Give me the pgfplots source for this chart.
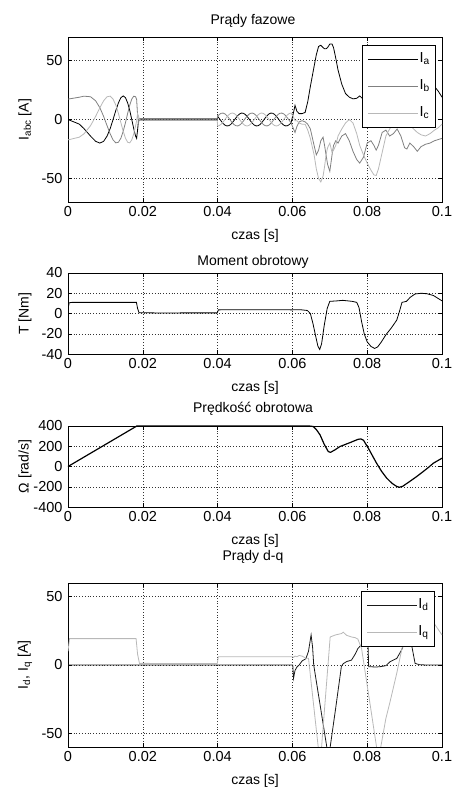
\documentclass[border=0pt]{standalone}
\usepackage{pgfplots}
\pgfplotsset{compat=1.18}
\usepackage{pgfplotstable}
\usepackage{fontspec}
\setmainfont{Liberation Sans}
\definecolor{cB}{gray}{0.5}
\definecolor{cC}{gray}{0.72}
\definecolor{cD}{gray}{0.1}

\pgfplotstableread{
t ia ib ic
0.00000 0 17.3 -17.3
0.00301 -3.9 18.9 -15.0
0.00426 -7.7 19.8 -12.2
0.00603 -14.1 19.3 -5.2
0.00738 -18.5 15.9 2.6
0.00852 -20 10 10
0.00953 -18.5 2.6 15.9
0.01044 -14.1 -5.2 19.3
0.01128 -7.7 -12.2 19.8
0.01205 0 -17.3 17.3
0.01279 7.7 -19.8 12.2
0.01348 14.1 -19.3 5.2
0.01413 18.5 -15.9 -2.6
0.01476 20 -10 -10
0.01537 18.5 -2.6 -15.9
0.01595 14.1 5.2 -19.3
0.01651 7.7 12.2 -19.8
0.01705 0 17.3 -17.3
0.01757 -7.7 19.8 -12.2
0.01808 -14.1 19.3 -5.2
0.01835 -16 17 -1
0.01860 -9 4 5
0.01885 -1 -3 3
0.01910 -0.3 0.8 -0.5
0.03990 -0.3 0.8 -0.5
0.04000 2.75 2.75 -5.5
0.04049 0.72 4.36 -5.08
0.04098 -1.42 5.31 -3.89
0.04147 -3.35 5.45 -2.1
0.04196 -4.76 4.76 0
0.04245 -5.45 3.35 2.1
0.04295 -5.31 1.42 3.89
0.04344 -4.36 -0.72 5.08
0.04393 -2.75 -2.75 5.5
0.04442 -0.72 -4.36 5.08
0.04491 1.42 -5.31 3.89
0.04540 3.35 -5.45 2.1
0.04589 4.76 -4.76 0
0.04638 5.45 -3.35 -2.1
0.04687 5.31 -1.42 -3.89
0.04736 4.36 0.72 -5.08
0.04786 2.75 2.75 -5.5
0.04835 0.72 4.36 -5.08
0.04884 -1.42 5.31 -3.89
0.04933 -3.35 5.45 -2.1
0.04982 -4.76 4.76 0
0.05031 -5.45 3.35 2.1
0.05080 -5.31 1.42 3.89
0.05129 -4.36 -0.72 5.08
0.05178 -2.75 -2.75 5.5
0.05227 -0.72 -4.36 5.08
0.05277 1.42 -5.31 3.89
0.05326 3.35 -5.45 2.1
0.05375 4.76 -4.76 0
0.05424 5.45 -3.35 -2.1
0.05473 5.31 -1.42 -3.89
0.05522 4.36 0.72 -5.08
0.05571 2.75 2.75 -5.5
0.05620 0.72 4.36 -5.08
0.05669 -1.42 5.31 -3.89
0.05718 -3.35 5.45 -2.1
0.05768 -4.76 4.76 0
0.05817 -5.45 3.35 2.1
0.05866 -5.31 1.42 3.89
0.05915 -4.36 -0.72 5.08
0.05964 -2.75 -2.75 5.5
0.0603 6 -8 2
0.0607 12 -11 -1
0.0612 7 -6 -1
0.0618 5 -2 -3
0.0626 5 -1 -4
0.0634 6 -2 -4
0.0641 15 -4 -9
0.0648 28 -8 -16
0.0658 45 -22 -30
0.0664 55 -30 -42
0.0670 62 -26 -50
0.0676 63 -18 -53
0.0682 61 -15 -48
0.0686 60 -22 -40
0.0690 60 -30 -30
0.0694 61 -38 -24
0.0700 64 -44 -20
0.0706 64 -30 -28
0.0710 61 -22 -26
0.0716 52 -18 -22
0.0722 42 -20 -14
0.0732 30 -14 -8
0.0742 22 -12 -3
0.0752 19 -18 0
0.0762 17.5 -27 -3
0.0772 18 -34 -12
0.0780 20 -37 -22
0.0790 17 -32 -30
0.0800 14 -20 -37
0.0810 11 -18 -43
0.0818 9 -22 -47
0.0824 8 -26 -47.5
0.0830 7 -22 -42
0.0840 5 -11 -28
0.0850 5 -9 -14
0.0860 6 -14 -8
0.0870 8 -12 -4
0.0880 12 -8 -3
0.0890 18 -14 -5
0.0900 25 -24 -4
0.0906 29 -25 -4
0.0914 34 -20 -5
0.0924 38 -23 -8
0.0934 41 -27 -11
0.0944 40 -23 -13
0.0956 36 -21 -14
0.0968 32 -20 -12
0.0980 28 -18 -9
0.0990 24 -17 -7
0.1000 19 -16 -4
}\phase

\pgfplotstableread{
t T
0 4
0.0003 10.5
0.0010 11
0.0183 11
0.0186 5
0.0190 0.8
0.0250 0.5
0.0300 0.6
0.0399 0.6
0.0402 3.6
0.0500 3.8
0.0600 3.6
0.0620 3.8
0.0640 3
0.0648 0
0.0655 -10
0.0662 -22
0.0668 -32
0.0673 -35.5
0.0678 -30
0.0685 -12
0.0693 5
0.0700 12
0.0720 12.5
0.0735 13
0.0760 12
0.0772 11
0.0778 6
0.0785 -8
0.0792 -20
0.0800 -28
0.0810 -32.5
0.0820 -34.5
0.0828 -33
0.0838 -28
0.0850 -21
0.0865 -14
0.0879 -6.5
0.0887 3
0.0893 11
0.0905 12
0.0915 16
0.0928 19.3
0.0945 20
0.0960 19.5
0.0977 17.8
0.1000 12.5
}\torque

\pgfplotstableread{
t w
0 0
0.0184 400
0.0645 400
0.0656 395
0.0665 360
0.0674 312
0.0685 220
0.0696 147
0.0702 140
0.0714 165
0.0727 197
0.0754 236
0.0776 269
0.0783 272
0.0790 260
0.0803 181
0.0815 100
0.0825 33
0.0838 -45
0.0852 -114
0.0866 -165
0.0878 -195
0.0886 -205
0.0895 -195
0.0914 -147
0.0932 -100
0.0950 -49
0.0965 -5
0.0977 33
0.1000 82
}\speed

\pgfplotstableread{
t id iq
0 0 10
0.0004 0 19.3
0.0182 0 19.3
0.0186 0 8
0.0191 0 1.2
0.0399 0 1
0.0402 0 6
0.0601 0 6
0.0603 -9.7 5.6
0.0607 -4 6.5
0.0612 -1.5 6
0.0618 0 7
0.0626 3 6.5
0.0636 4.6 5
0.0643 10 5
0.0650 22 -12.5
0.0654 13 -22.5
0.0657 0 -30
0.0669 -20.6 -60
0.0674 -29.1 -72
0.0678 -36 -60
0.0692 -60 -11
0.0696 -66 3
0.0701 -60 20.5
0.0715 -33 22
0.0731 -1 23
0.0736 1 24
0.0745 2.5 21.7
0.0758 3.6 20.5
0.0768 8 20
0.0775 12 19
0.0785 15 12
0.0802 16 -18.6
0.0804 -1.2 -22
0.0825 -1.5 -60
0.0830 -1.3 -68
0.0835 -1.2 -62
0.0850 -0.5 -39
0.0861 2.4 -27
0.0879 4.8 -6
0.0892 11 10.9
0.0905 20 25
0.0915 20 28
0.0928 1.2 30
0.0940 0.2 32
0.0960 0 32
0.0980 0 30
0.1000 0 22
}\dq

\pgfplotsset{
  myax/.style={
    scale only axis, width=374pt, xmin=0, xmax=0.1,
    xtick={0,0.02,0.04,0.06,0.08,0.1},
    xticklabels={0,0.02,0.04,0.06,0.08,0.1},
    scaled x ticks=false, scaled y ticks=false,
    grid=major,
    major grid style={black!80, line width=0.5pt, dash pattern=on 0.8pt off 2pt},
    tick align=inside, major tick length=4pt,
    tick style={black, line width=0.5pt},
    axis line style={line width=0.6pt},
    tick label style={font=\fontsize{14.5}{16}\selectfont},
    xticklabel style={yshift=-1pt},
    yticklabel style={xshift=-2pt},
    label style={font=\fontsize{14}{16}\selectfont},
    xlabel={czas [s]},
    xlabel style={at={([yshift=-34pt]axis description cs:0.5,0)}, anchor=center},
    ylabel style={at={([xshift=-43pt]axis description cs:0,0.5)}, anchor=center},
    every axis plot/.append style={line width=0.8pt},
  },
  mylegend/.style={
    legend style={draw=black, line width=0.6pt, fill=white,
      inner xsep=5pt, inner ysep=6pt, row sep=11pt,
      font=\fontsize{14.5}{16}\selectfont,
      nodes={inner sep=1pt, text height=10pt, text depth=4pt},
      /tikz/every even column/.append style={column sep=6pt}},
    legend image code/.code={\draw[##1, line width=0.8pt] (0pt,0pt) -- (50pt,0pt);},
    legend cell align=left,
  },
}

\begin{document}
\begin{tikzpicture}
\useasboundingbox (0pt,0pt) rectangle (452pt,-787pt);

\node[font=\fontsize{14}{16}\selectfont] at (253pt,-21pt) {Prądy fazowe};
\node[font=\fontsize{14}{16}\selectfont] at (253pt,-262pt) {Moment obrotowy};
\node[font=\fontsize{14}{16}\selectfont] at (253pt,-409pt) {Prędkość obrotowa};
\node[font=\fontsize{14}{16}\selectfont] at (253pt,-557pt) {Prądy d-q};

\begin{axis}[myax, mylegend, at={(68pt,-37pt)}, anchor=north west, height=165pt,
  ymin=-70, ymax=70, ytick={-50,0,50}, yticklabels={-50,0,50},
  ylabel={I\textsubscript{abc} [A]},
  legend style={at={(0.984,0.952)}, anchor=north east}]
\addplot[black, no marks] table[x=t, y=ia] {\phase};
\addplot[cB, no marks] table[x=t, y=ib] {\phase};
\addplot[cC, no marks] table[x=t, y=ic] {\phase};
\legend{I\textsubscript{a}, I\textsubscript{b}, I\textsubscript{c}}
\end{axis}

\begin{axis}[myax, at={(68pt,-273pt)}, anchor=north west, height=81pt,
  ymin=-40, ymax=40, ytick={-40,-20,0,20,40}, yticklabels={-40,-20,0,20,40},
  ylabel={T [Nm]}]
\addplot[black, no marks] table[x=t, y=T] {\torque};
\end{axis}

\begin{axis}[myax, at={(68pt,-426pt)}, anchor=north west, height=81pt,
  ymin=-400, ymax=400, ytick={-400,-200,0,200,400}, yticklabels={-400,-200,0,200,400},
  ylabel={Ω [rad/s]}, clip=false]
\addplot[black, no marks, line width=1.2pt] table[x=t, y=w] {\speed};
\end{axis}

\begin{axis}[myax, mylegend, at={(68pt,-583pt)}, anchor=north west, height=164pt,
  ymin=-60, ymax=60, ytick={-50,0,50}, yticklabels={-50,0,50},
  ylabel={I\textsubscript{d}, I\textsubscript{q} [A]},
  legend style={at={(0.981,0.951)}, anchor=north east}]
\addplot[cD, no marks] table[x=t, y=id] {\dq};
\addplot[cC, no marks] table[x=t, y=iq] {\dq};
\legend{I\textsubscript{d}, I\textsubscript{q}}
\end{axis}
\end{tikzpicture}
\end{document}
